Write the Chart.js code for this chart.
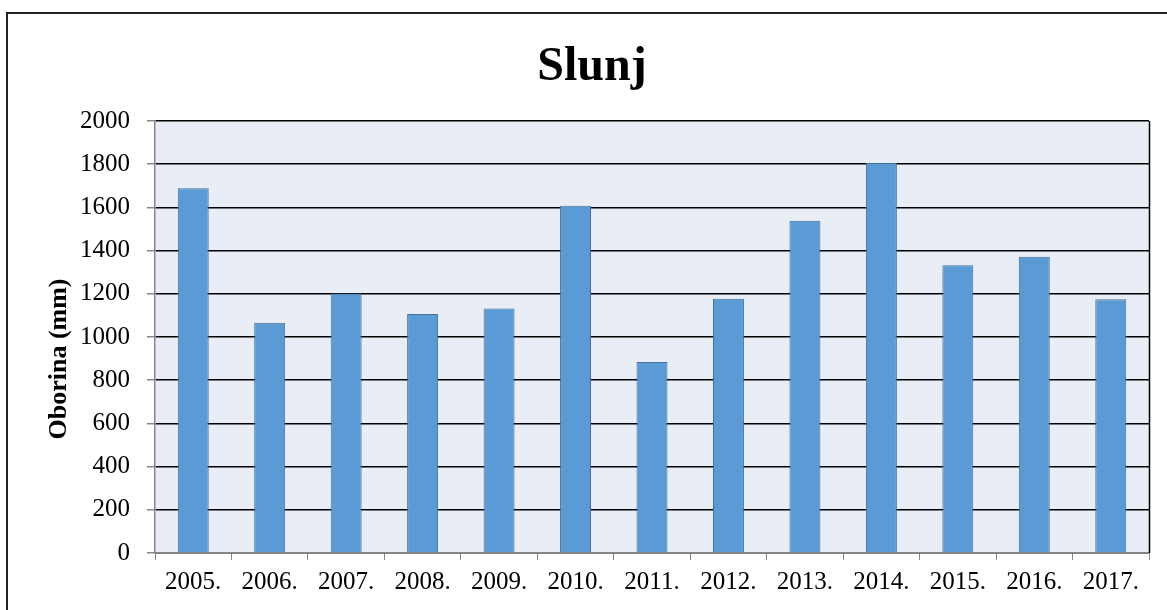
<!DOCTYPE html>
<html>
<head>
<meta charset="utf-8">
<script src="https://cdn.jsdelivr.net/npm/chart.js@4/dist/chart.umd.min.js"></script>
<style>
  html, body { margin: 0; padding: 0; background: #fff; overflow: hidden; }
  #wrap { position: relative; width: 1167px; height: 610px; }
</style>
</head>
<body>
<div id="wrap"><canvas id="c" width="1167" height="610"></canvas></div>
<script>
// ── DATA ──────────────────────────────────────────────────────────────────
const years  = ['2005.', '2006.', '2007.', '2008.', '2009.', '2010.', '2011.', '2012.', '2013.', '2014.', '2015.', '2016.', '2017.'];
const oborina = [1689, 1066, 1201, 1107, 1132, 1608, 884, 1177, 1538, 1806, 1332, 1372, 1175];
const yTicks = [0, 200, 400, 600, 800, 1000, 1200, 1400, 1600, 1800, 2000];

const SERIF = '"Liberation Serif", "Times New Roman", serif';

// background of plot, right border, outer frame, titles
const decor = {
  id: 'decor',
  beforeDraw(chart) {
    const { ctx, chartArea: a } = chart;
    ctx.save();
    ctx.fillStyle = '#E9EDF5';
    ctx.fillRect(a.left, a.top, a.right - a.left, a.bottom - a.top);
    ctx.restore();
  },
  afterDraw(chart) {
    const { ctx, chartArea: a } = chart;
    ctx.save();
    // right border of plot
    ctx.strokeStyle = '#000';
    ctx.lineWidth = 1.5;
    ctx.beginPath();
    ctx.moveTo(a.right + 0.5, a.top);
    ctx.lineTo(a.right + 0.5, a.bottom);
    ctx.stroke();
    // outer frame (top + left only visible)
    ctx.strokeStyle = '#222';
    ctx.lineWidth = 2;
    ctx.beginPath();
    ctx.moveTo(7, 620);
    ctx.lineTo(7, 13);
    ctx.lineTo(1170, 13);
    ctx.stroke();
    // chart title
    ctx.fillStyle = '#000';
    ctx.font = 'bold 48px ' + SERIF;
    ctx.textAlign = 'center';
    ctx.textBaseline = 'alphabetic';
    ctx.fillText('Slunj', 592, 80);
    // y axis title (sits a bit below the plot centre, as in the original)
    ctx.translate(59, 359);
    ctx.rotate(-Math.PI / 2);
    ctx.font = 'bold 26px ' + SERIF;
    ctx.textBaseline = 'middle';
    ctx.fillText('Oborina (mm)', 0, 0);
    ctx.restore();
  }
};

new Chart(document.getElementById('c'), {
  type: 'bar',
  data: {
    labels: years,
    datasets: [{
      label: 'Oborina',
      data: oborina,
      backgroundColor: '#5B9BD5',
      borderColor: '#41719C',
      borderWidth: 1,
      barPercentage: 0.405,
      categoryPercentage: 1,
    }],
  },
  options: {
    responsive: false,
    animation: false,
    devicePixelRatio: 1,
    layout: { padding: { top: 121, right: 18, bottom: 0, left: 0 } },
    plugins: {
      legend: { display: false },
      tooltip: { enabled: false },
      title: { display: false },
    },
    scales: {
      x: {
        afterFit: s => { s.height = 57; },
        grid: { drawOnChartArea: false, drawTicks: true, tickLength: 7, tickColor: '#868686', offset: true },
        border: { color: '#868686', width: 1.5 },
        ticks: { color: '#000', font: { family: SERIF, size: 25 }, padding: 7, maxRotation: 0, autoSkip: false },
      },
      y: {
        min: 0, max: 2000,
        afterFit: s => { s.width = 155; },
        afterBuildTicks: s => { s.ticks = yTicks.map(v => ({ value: v })); },
        grid: { color: '#000', lineWidth: 1.5, tickLength: 8, tickColor: '#868686' },
        border: { color: '#868686', width: 1.5 },
        ticks: { color: '#000', font: { family: SERIF, size: 25 }, padding: 17, callback: v => String(v) },
        title: { display: false },
      },
    },
  },
  plugins: [decor],
});
</script>
</body>
</html>
